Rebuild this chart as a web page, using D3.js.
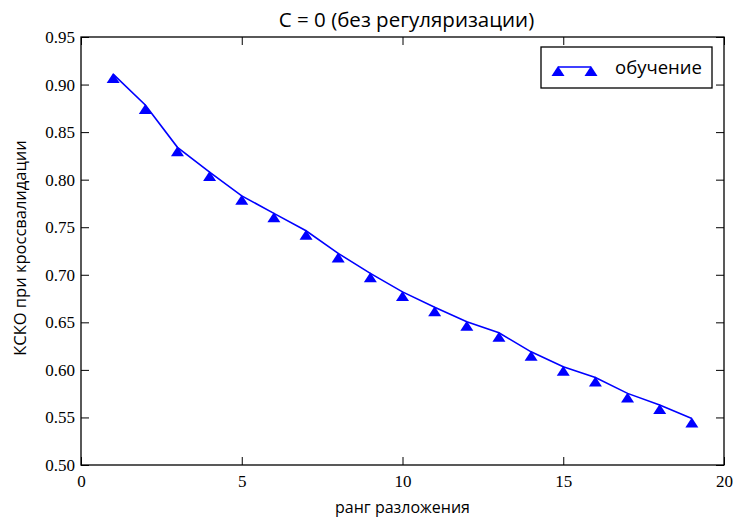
<!DOCTYPE html>
<html><head><meta charset="utf-8">
<script src="https://cdn.jsdelivr.net/npm/d3@7"></script>
<style>body{margin:0;background:#fff}svg{display:block}</style>
</head><body>
<script>
const ranks = [1,2,3,4,5,6,7,8,9,10,11,12,13,14,15,16,17,18,19];
const trainRMSE = [0.911,0.8785,0.834,0.808,0.783,0.7646,0.7463,0.7225,0.7015,0.682,0.6658,0.6507,0.639,0.619,0.6033,0.592,0.5753,0.563,0.549];
const xTicks = [0,5,10,15,20];
const yTicks = [0.50,0.55,0.60,0.65,0.70,0.75,0.80,0.85,0.90,0.95];
const titleText = "C = 0 (без регуляризации)";
const xLabel = "ранг разложения";
const yLabel = "КСКО при кроссвалидации";
const seriesName = "обучение";

const W = 734, H = 520;
const m = {left:81, right:10, top:37, bottom:55};
const svg = d3.select("body").append("svg").attr("width",W).attr("height",H);
const x = d3.scaleLinear().domain([0,20]).range([m.left, W-m.right]);
const y = d3.scaleLinear().domain([0.50,0.95]).range([H-m.bottom, m.top]);
const serif = "'Liberation Serif','DejaVu Serif',serif";
const sans = "'Open Sans','DejaVu Sans',sans-serif";
const tickLen = 8;

const g = svg.append("g");
const axB = d3.axisBottom(x).tickValues(xTicks).tickSize(-tickLen).tickPadding(10).tickFormat(d3.format("d"));
const axT = d3.axisTop(x).tickValues(xTicks).tickSize(-tickLen).tickFormat("");
const axL = d3.axisLeft(y).tickValues(yTicks).tickSize(-tickLen).tickPadding(6).tickFormat(d3.format(".2f"));
const axR = d3.axisRight(y).tickValues(yTicks).tickSize(-tickLen).tickFormat("");
function style(sel){ sel.select(".domain").remove(); sel.selectAll(".tick line").attr("stroke","#000").attr("stroke-width",1);
  sel.selectAll("text").attr("font-family",serif).attr("font-size",17).attr("fill","#000"); }
g.append("g").attr("transform",`translate(0,${y(0.5)})`).call(axB).call(style);
g.append("g").attr("transform",`translate(0,${y(0.95)})`).call(axT).call(style);
g.append("g").attr("transform",`translate(${x(0)},0)`).call(axL).call(style);
g.append("g").attr("transform",`translate(${x(20)},0)`).call(axR).call(style);

const data = ranks.map((r,i)=>({r, v:trainRMSE[i]}));
const line = d3.line().x(d=>x(d.r)).y(d=>y(d.v));
g.append("path").datum(data).attr("d",line).attr("fill","none").attr("stroke","#0000ff").attr("stroke-width",1.6);
const tri = "M0,-1 L6.5,9 L-6.5,9 Z";
g.selectAll(".mk").data(data).enter().append("path").attr("class","mk")
  .attr("d",tri).attr("transform",d=>`translate(${x(d.r)},${y(d.v)})`).attr("fill","#0000ff");

g.append("rect").attr("x",x(0)).attr("y",y(0.95)).attr("width",x(20)-x(0)).attr("height",y(0.5)-y(0.95))
  .attr("fill","none").attr("stroke","#000").attr("stroke-width",1.3);

const lg = svg.append("g");
lg.append("rect").attr("x",541).attr("y",47).attr("width",171).attr("height",41).attr("fill","#fff").attr("stroke","#000").attr("stroke-width",1.3);
lg.append("line").attr("x1",558).attr("x2",591).attr("y1",67).attr("y2",67).attr("stroke","#0000ff").attr("stroke-width",1.6);
[558,591].forEach(px=>lg.append("path").attr("d",tri).attr("transform",`translate(${px},67)`).attr("fill","#0000ff"));
lg.append("text").attr("x",615).attr("y",74).attr("font-family",sans).attr("font-size",18.5).attr("fill","#000").text(seriesName);

svg.append("text").attr("x",(x(0)+x(20))/2+4).attr("y",27).attr("text-anchor","middle").attr("font-family",sans).attr("font-size",20.5).attr("fill","#000").text(titleText);
svg.append("text").attr("x",(x(0)+x(20))/2).attr("y",513).attr("text-anchor","middle").attr("font-family",sans).attr("font-size",16).attr("fill","#000").text(xLabel);
svg.append("text").attr("transform",`translate(26,${(y(0.5)+y(0.95))/2 - 3}) rotate(-90)`).attr("text-anchor","middle").attr("font-family",sans).attr("font-size",16.5).attr("fill","#000").text(yLabel);
</script>
</body></html>
